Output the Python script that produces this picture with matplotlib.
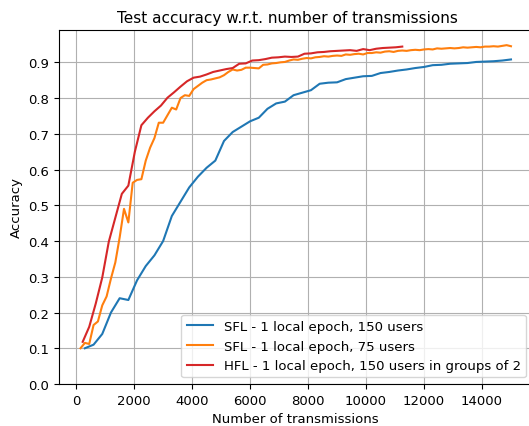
import numpy as np
import matplotlib
matplotlib.use('Agg')
import matplotlib.pyplot as plt

# SFL, 150 users: one point every 300 transmissions
sfl150_x = np.arange(300, 15001, 300)
sfl150_acc = [0.100, 0.110, 0.140, 0.200, 0.240, 0.235, 0.290, 0.330, 0.360, 0.400,
              0.470, 0.510, 0.550, 0.580, 0.605, 0.625, 0.680, 0.705, 0.720, 0.735,
              0.745, 0.770, 0.785, 0.790, 0.808, 0.815, 0.822, 0.840, 0.843, 0.844,
              0.853, 0.857, 0.861, 0.862, 0.870, 0.873, 0.877, 0.880, 0.884, 0.887,
              0.892, 0.893, 0.896, 0.897, 0.898, 0.901, 0.902, 0.903, 0.905, 0.908]

# SFL, 75 users: one point every 150 transmissions
sfl75_x = np.arange(150, 15001, 150)
sfl75_acc = [0.100, 0.115, 0.112, 0.165, 0.175, 0.220, 0.245, 0.295, 0.340, 0.410,
             0.490, 0.452, 0.563, 0.571, 0.573, 0.625, 0.661, 0.688, 0.731, 0.731,
             0.752, 0.773, 0.768, 0.800, 0.808, 0.806, 0.825, 0.834, 0.843, 0.850,
             0.852, 0.855, 0.858, 0.864, 0.873, 0.880, 0.877, 0.879, 0.885, 0.885,
             0.884, 0.883, 0.893, 0.894, 0.897, 0.898, 0.900, 0.901, 0.905, 0.908,
             0.907, 0.910, 0.912, 0.911, 0.914, 0.915, 0.917, 0.916, 0.918, 0.919,
             0.918, 0.922, 0.921, 0.923, 0.924, 0.922, 0.926, 0.926, 0.928, 0.927,
             0.930, 0.931, 0.929, 0.932, 0.933, 0.932, 0.934, 0.935, 0.934, 0.936,
             0.937, 0.936, 0.939, 0.938, 0.939, 0.940, 0.939, 0.940, 0.942, 0.941,
             0.942, 0.943, 0.942, 0.944, 0.944, 0.945, 0.944, 0.946, 0.948, 0.945]

# HFL, 150 users in groups of 2: one point every 225 transmissions
hfl_x = np.arange(225, 11251, 225)
hfl_acc = [0.118, 0.160, 0.225, 0.298, 0.398, 0.465, 0.532, 0.555, 0.650, 0.724,
           0.745, 0.763, 0.779, 0.801, 0.816, 0.832, 0.847, 0.857, 0.860, 0.866,
           0.873, 0.877, 0.881, 0.884, 0.896, 0.897, 0.905, 0.906, 0.909, 0.913,
           0.914, 0.916, 0.915, 0.916, 0.924, 0.925, 0.928, 0.929, 0.931, 0.932,
           0.933, 0.934, 0.932, 0.937, 0.934, 0.938, 0.940, 0.941, 0.942, 0.944]

labels = ['SFL - 1 local epoch, 150 users',
          'SFL - 1 local epoch, 75 users',
          'HFL - 1 local epoch, 150 users in groups of 2']

plt.rcParams['font.size'] = 9.5

fig = plt.figure(figsize=(5.29, 4.27), dpi=100)
# axes run a little past the right edge, like the cropped original
ax = fig.add_axes([59 / 529, 42 / 427, 473.5 / 529, 354 / 427])

ax.plot(sfl150_x, sfl150_acc, color='tab:blue', label=labels[0])
ax.plot(sfl75_x, sfl75_acc, color='tab:orange', label=labels[1])
ax.plot(hfl_x, hfl_acc, color='tab:red', label=labels[2])

ax.set_ylim(bottom=0.0)
ax.set_yticks(np.arange(0, 1.0, 0.1))
ax.grid(True)
ax.set_title('Test accuracy w.r.t. number of transmissions', fontsize=11, x=0.483)
ax.set_xlabel('Number of transmissions')
ax.set_ylabel('Accuracy')
ax.legend(loc='lower right')

fig.savefig('out.png', dpi=100)
